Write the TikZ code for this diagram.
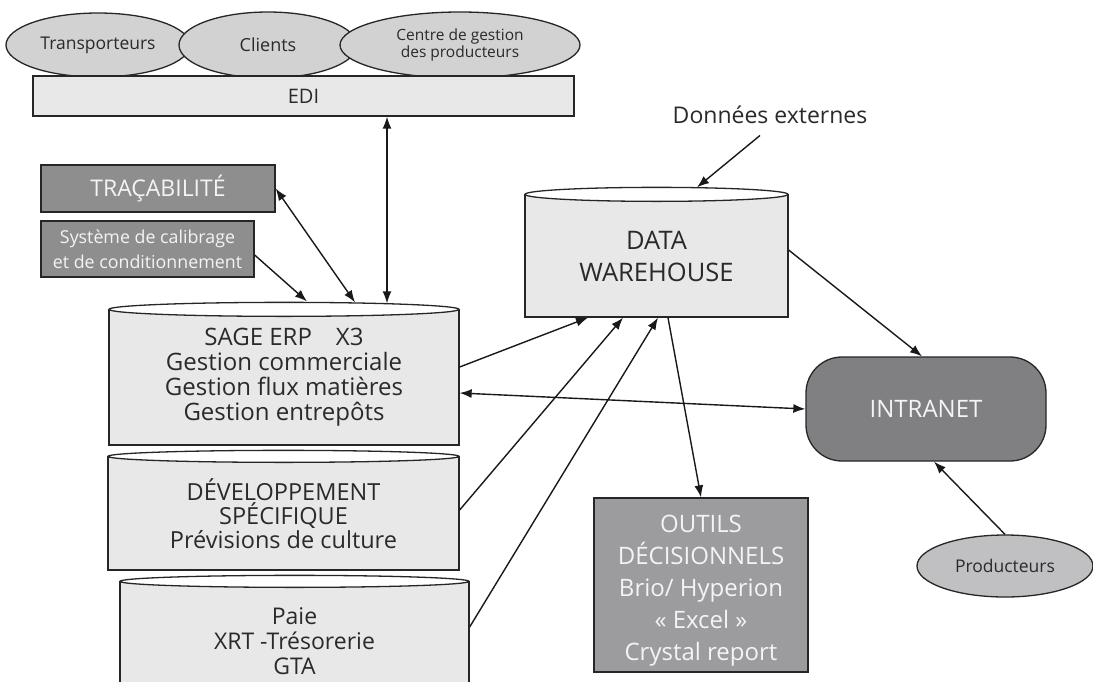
\documentclass[tikz,border=0pt]{standalone}
\usepackage{fontspec}
\setmainfont{Open Sans}
\usetikzlibrary{arrows.meta,shapes.geometric,calc}
\definecolor{lightfill}{HTML}{E8E8E8}
\definecolor{tracfill}{HTML}{8E8E8E}
\definecolor{intrafill}{HTML}{808082}
\definecolor{outilfill}{HTML}{9C9C9E}
\definecolor{ellfill}{HTML}{D2D2D2}
\definecolor{prodfill}{HTML}{C0C0C2}
\definecolor{txt}{HTML}{2A2A2A}
\definecolor{wtxt}{HTML}{F4F4F4}
\begin{document}
\begin{tikzpicture}[x=1pt,y=-1pt,
  box/.style={draw=black!85, line width=1.3pt, fill=lightfill, inner sep=0pt, text=txt, align=center},
  darkbox/.style={box, text=wtxt},
  cyltop/.style={draw=black!85, line width=1.3pt, fill=white},
  ell/.style={ellipse, draw=black!85, fill=ellfill, line width=1.3pt, inner sep=0pt, text=txt, align=center},
  arr/.style={-{Latex[length=12pt,width=9pt]}, line width=1.4pt, black!90},
  darr/.style={{Latex[length=12pt,width=9pt]}-{Latex[length=12pt,width=9pt]}, line width=1.4pt, black!90}
]
\useasboundingbox[fill=white] (0,0) rectangle (1093,681);

% top partners
\node[ell, minimum width=184pt, minimum height=64pt, font=\fontsize{17.5}{18}\selectfont] (trans) at (98,45) {Transporteurs};
\node[ell, minimum width=178pt, minimum height=66pt, font=\fontsize{18}{18}\selectfont] (cli) at (268,45) {Clients};
\node[ell, minimum width=240pt, minimum height=66pt, font=\fontsize{15.5}{17}\selectfont] (cgp) at (460,45) {Centre de gestion\\des producteurs};

\node[box, minimum width=541pt, minimum height=40pt, font=\fontsize{20}{24}\selectfont] (edi) at (303.5,96) {EDI};

% left boxes
\node[darkbox, fill=tracfill, minimum width=234pt, minimum height=47pt, font=\fontsize{23}{24}\selectfont] (trac) at (158,188.5) {TRAÇABILITÉ};
\node[darkbox, fill=tracfill, minimum width=213pt, minimum height=56pt, font=\fontsize{17.8}{25}\selectfont] (sys) at (147.5,249) {Système de calibrage\\et de conditionnement};

% cylinders
\node[box, font=\fontsize{24}{25}\selectfont, minimum width=350pt, minimum height=135pt] (sage) at (284,377.5) {SAGE ERP\quad X3\\Gestion commerciale\\Gestion flux matières\\Gestion entrepôts};
\draw[cyltop] (sage.north) ellipse [x radius=175, y radius=7];

\node[box, font=\fontsize{23.5}{24}\selectfont, minimum width=351pt, minimum height=113pt] (dev) at (283.5,513.5) {DÉVELOPPEMENT\\SPÉCIFIQUE\\Prévisions de culture};
\draw[cyltop] (dev.north) ellipse [x radius=175.5, y radius=6];

\node[box, font=\fontsize{23}{25}\selectfont, minimum width=349pt, minimum height=118pt] (paie) at (294.5,641) {Paie\\XRT -Trésorerie\\GTA};
\draw[cyltop] (paie.north) ellipse [x radius=174.5, y radius=6];

\node[box, font=\fontsize{25.5}{32}\selectfont, minimum width=263pt, minimum height=122pt] (dw) at (656.5,256) {DATA\\WAREHOUSE};
\draw[cyltop] (dw.north) ellipse [x radius=131.5, y radius=7];

\node[font=\fontsize{23}{24}\selectfont, text=txt] (don) at (770,115) {Données externes};

\node[darkbox, fill=intrafill, rounded corners=36pt, minimum width=240pt, minimum height=104pt, font=\fontsize{24}{24}\selectfont] (intra) at (926,409) {INTRANET};

\node[darkbox, fill=outilfill, font=\fontsize{24}{32}\selectfont, minimum width=214pt, minimum height=174pt] (out) at (701,585) {\parbox{200pt}{\centering\vspace*{12pt}OUTILS\\DÉCISIONNELS\\Brio/ Hyperion\\« Excel »\\Crystal report}};

\node[ell, fill=prodfill, minimum width=176pt, minimum height=62pt, font=\fontsize{17.5}{18}\selectfont] (prod) at (1005,566) {Producteurs};

% connectors
\draw[darr] ([xshift=83.5pt]edi.south) -- ([xshift=103pt,yshift=6pt]sage.north);
\draw[darr] (trac.east) -- ([xshift=71pt,yshift=7pt]sage.north);
\draw[arr] ([yshift=-6pt]sys.east) -- ([xshift=23pt,yshift=8pt]sage.north);
\draw[arr] ([xshift=-10pt,yshift=-8pt]don.south) -- ([xshift=40.5pt,yshift=7pt]dw.north);
\draw[arr] ([yshift=10.5pt]sage.east) -- ([xshift=-68.5pt]dw.south);
\draw[arr] ([yshift=3.5pt]dev.east) -- ([xshift=-33.5pt]dw.south);
\draw[arr] ([yshift=14pt]paie.east) -- ([xshift=1.5pt]dw.south);
\draw[arr] ([xshift=11.5pt]dw.south) -- (out.north);
\draw[darr] ([yshift=-15.5pt]sage.east) -- (intra.west);
\draw[arr] ([yshift=6pt]dw.east) -- ([xshift=-4pt]intra.north);
\draw[arr] (prod.north) -- ([xshift=8pt]intra.south);
\end{tikzpicture}
\end{document}
